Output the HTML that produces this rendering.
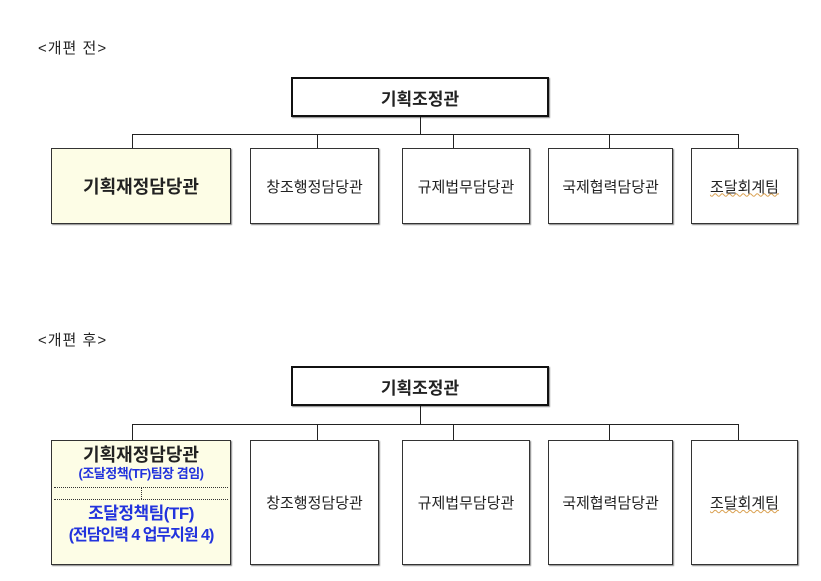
<!DOCTYPE html>
<html><head><meta charset="utf-8"><style>
body{margin:0;width:821px;height:581px;background:#fff;position:relative;font-family:"Liberation Sans","Noto Sans CJK KR",sans-serif;overflow:hidden}
.a{position:absolute;box-sizing:border-box}
.b{border:1px solid #333;background:#fff;display:flex;align-items:center;justify-content:center;font-size:15px;color:#222;box-shadow:1px 1px 1px #888}
.t{border:2px solid #111;font-weight:bold;font-size:17px}
.l{background:#222}
.lbl{font-size:15px;color:#222;letter-spacing:1px}
.u{text-decoration:underline wavy #d9a050;text-decoration-thickness:1px}
</style></head><body>
<div class="a lbl" style="left:38px;top:37px">&lt;개편 전&gt;</div>
<div class="a b t" style="left:291px;top:77px;width:258px;height:40px">기획조정관</div>
<div class="a l" style="left:420px;top:117px;width:1px;height:17px"></div>
<div class="a l" style="left:132px;top:134px;width:607px;height:1px"></div>
<div class="a l" style="left:132px;top:134px;width:1px;height:14px"></div>
<div class="a l" style="left:317px;top:134px;width:1px;height:14px"></div>
<div class="a l" style="left:453px;top:134px;width:1px;height:14px"></div>
<div class="a l" style="left:609px;top:134px;width:1px;height:14px"></div>
<div class="a l" style="left:738px;top:134px;width:1px;height:14px"></div>
<div class="a b" style="left:51px;top:148px;width:180px;height:76px;background:#fdfde6;font-weight:bold;font-size:18px">기획재정담당관</div>
<div class="a b" style="left:250px;top:148px;width:129px;height:76px">창조행정담당관</div>
<div class="a b" style="left:402px;top:148px;width:128px;height:76px">규제법무담당관</div>
<div class="a b" style="left:548px;top:148px;width:125px;height:76px">국제협력담당관</div>
<div class="a b" style="left:691px;top:148px;width:107px;height:76px"><span class="u">조달회계팀</span></div>

<div class="a lbl" style="left:38px;top:329px">&lt;개편 후&gt;</div>
<div class="a b t" style="left:291px;top:366px;width:258px;height:40px">기획조정관</div>
<div class="a l" style="left:420px;top:406px;width:1px;height:18px"></div>
<div class="a l" style="left:132px;top:424px;width:607px;height:1px"></div>
<div class="a l" style="left:132px;top:424px;width:1px;height:16px"></div>
<div class="a l" style="left:317px;top:424px;width:1px;height:16px"></div>
<div class="a l" style="left:453px;top:424px;width:1px;height:16px"></div>
<div class="a l" style="left:609px;top:424px;width:1px;height:16px"></div>
<div class="a l" style="left:738px;top:424px;width:1px;height:16px"></div>
<div class="a b" style="left:51px;top:440px;width:180px;height:125px;background:#fdfde6;display:block;text-align:center">
<div style="font-weight:bold;font-size:18px;margin-top:3px;line-height:22px">기획재정담당관</div>
<div style="color:#2233dd;font-size:13px;font-weight:bold;line-height:16px;letter-spacing:-0.5px">(조달정책(TF)팀장 겸임)</div>
<div style="border-top:1px dotted #333;margin:5px 2px 0;height:11px;position:relative"><div style="position:absolute;left:87px;top:0;height:11px;border-left:1px dotted #333"></div></div>
<div style="border-top:1px dotted #333;margin:0 2px"></div>
<div style="color:#2233dd;font-size:17px;font-weight:bold;line-height:24px;margin-top:2px;letter-spacing:-0.5px">조달정책팀(TF)</div>
<div style="color:#2233dd;font-size:16px;font-weight:bold;line-height:20px;letter-spacing:-1px">(전담인력 4  업무지원 4)</div>
</div>
<div class="a b" style="left:250px;top:440px;width:129px;height:125px">창조행정담당관</div>
<div class="a b" style="left:402px;top:440px;width:128px;height:125px">규제법무담당관</div>
<div class="a b" style="left:548px;top:440px;width:125px;height:125px">국제협력담당관</div>
<div class="a b" style="left:691px;top:440px;width:107px;height:125px"><span class="u">조달회계팀</span></div>
</body></html>
